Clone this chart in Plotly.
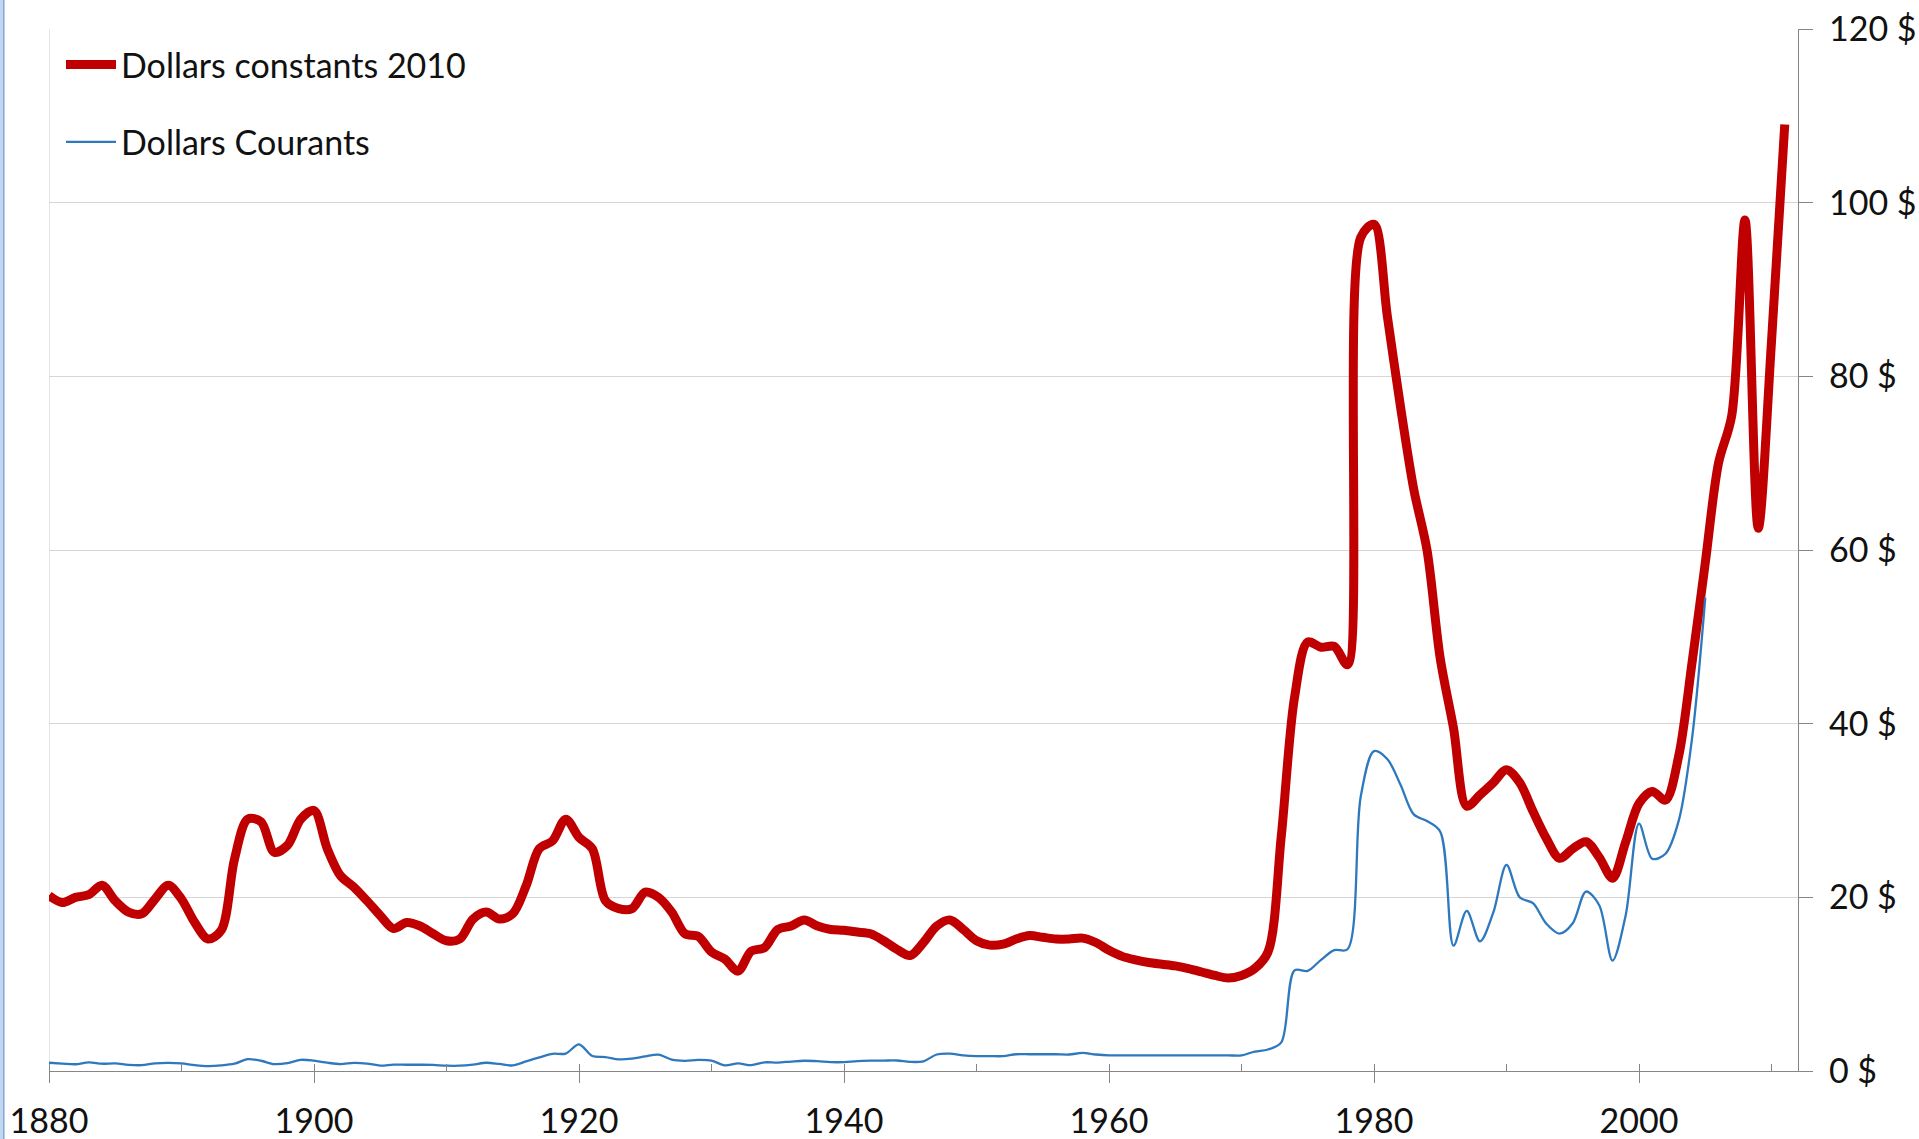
import plotly.graph_objects as go

# ---- data ----
years_const = list(range(1880, 2012))
dollars_const_2010 = [
    20.2, 19.4, 20.0, 20.3, 21.4, 19.6, 18.3, 18.1, 19.8, 21.4,   # 1880-1889
    19.8, 17.1, 15.2, 16.2, 24.4, 29.0, 28.7, 25.2, 26.0, 29.0,   # 1890-1899
    30.0, 25.6, 22.5, 21.2, 19.6, 17.9, 16.4, 17.1, 16.7, 15.8,   # 1900-1909
    15.0, 15.2, 17.5, 18.3, 17.5, 18.1, 21.3, 25.6, 26.5, 29.0,   # 1910-1919
    26.9, 25.6, 19.6, 18.7, 18.7, 20.6, 20.0, 18.3, 15.8, 15.5,   # 1920-1929
    13.7, 12.9, 11.5, 13.8, 14.2, 16.3, 16.7, 17.4, 16.7, 16.3,   # 1930-1939
    16.2, 16.0, 15.8, 15.0, 14.0, 13.3, 14.8, 16.7, 17.4, 16.3,   # 1940-1949
    15.0, 14.5, 14.6, 15.2, 15.6, 15.4, 15.2, 15.2, 15.3, 14.8,   # 1950-1959
    13.9, 13.2, 12.8, 12.5, 12.3, 12.1, 11.8, 11.4, 11.0, 10.7,   # 1960-1969
    11.0, 11.8, 13.7, 27.0, 43.0, 49.4, 48.8, 48.9, 46.8, 96.0,   # 1970-1979
    97.5, 87.0, 76.5, 67.0, 60.0, 47.5, 39.5, 30.5, 31.8, 33.2,   # 1980-1989
    34.7, 33.2, 29.9, 26.8, 24.5, 25.6, 26.4, 24.6, 22.2, 26.4,   # 1990-1999
    30.8, 32.2, 31.2, 36.3, 47.0, 58.5, 70.0, 75.5, 98.0, 62.5,   # 2000-2009
    84.0, 109.0,                                                  # 2010-2011
]

years_cur = list(range(1880, 2006))
dollars_courants = [
    0.95, 0.86, 0.78, 1.00, 0.84, 0.88, 0.71, 0.67, 0.88, 0.94,   # 1880-1889
    0.87, 0.67, 0.56, 0.64, 0.84, 1.36, 1.18, 0.79, 0.91, 1.29,   # 1890-1899
    1.19, 0.96, 0.80, 0.94, 0.86, 0.62, 0.73, 0.72, 0.72, 0.70,   # 1900-1909
    0.61, 0.61, 0.74, 0.95, 0.81, 0.64, 1.10, 1.56, 1.98, 2.01,   # 1910-1919
    3.07, 1.73, 1.61, 1.34, 1.43, 1.68, 1.88, 1.30, 1.17, 1.27,   # 1920-1929
    1.19, 0.65, 0.87, 0.67, 1.00, 0.97, 1.09, 1.18, 1.13, 1.02,   # 1930-1939
    1.02, 1.14, 1.19, 1.20, 1.21, 1.05, 1.12, 1.90, 1.99, 1.80,   # 1940-1949
    1.71, 1.71, 1.71, 1.93, 1.93, 1.93, 1.93, 1.90, 2.08, 1.90,   # 1950-1959
    1.80, 1.80, 1.80, 1.80, 1.80, 1.80, 1.80, 1.80, 1.80, 1.80,   # 1960-1969
    1.80, 2.24, 2.48, 3.29, 11.58, 11.53, 12.80, 13.92, 14.02, 31.61,  # 1970-1979
    36.83, 35.93, 32.97, 29.55, 28.78, 27.56, 14.43, 18.44, 14.92, 18.23,  # 1980-1989
    23.73, 20.00, 19.32, 16.97, 15.82, 17.02, 20.67, 19.09, 12.72, 17.97,  # 1990-1999
    28.50, 24.44, 25.02, 28.83, 38.27, 54.52,                     # 2000-2005
]

y_tick_vals = [0, 20, 40, 60, 80, 100, 120]
y_tick_text = ["0 $", "20 $", "40 $", "60 $", "80 $", "100 $", "120 $"]
x_tick_vals = [1880, 1900, 1920, 1940, 1960, 1980, 2000]
x_tick_text = ["1880", "1900", "1920", "1940", "1960", "1980", "2000"]

RED = "#C00000"
BLUE = "#2E78BD"
GRID = "#D6D6D6"
AXIS = "#868686"
FONT = "Lato"

fig = go.Figure()
fig.add_trace(go.Scatter(
    x=years_const, y=dollars_const_2010, mode="lines",
    name="Dollars constants 2010", legendgroup="a",
    line=dict(color=RED, width=9, shape="spline", smoothing=0.9),
))
fig.add_trace(go.Scatter(
    x=years_cur, y=dollars_courants, mode="lines",
    name="Dollars Courants", legendgroup="b",
    line=dict(color=BLUE, width=2.3, shape="spline", smoothing=0.9),
))

W, H = 1919, 1139
ml, mr, mt, mb = 49, 121, 29, 68
pw, ph = W - ml - mr, H - mt - mb

def px_x(p):
    return (p - ml) / pw

def px_y(p):
    return (H - mb - p) / ph

fig.update_layout(
    width=W, height=H,
    margin=dict(l=ml, r=mr, t=mt, b=mb, pad=0, autoexpand=False),
    paper_bgcolor="white", plot_bgcolor="white",
    font=dict(family=FONT, size=34, color="#111111"),
    showlegend=True,
    legend=dict(
        x=px_x(61), y=px_y(36), xanchor="left", yanchor="top",
        font=dict(family=FONT, size=34, color="#111111"),
        bgcolor="rgba(0,0,0,0)", borderwidth=0,
        traceorder="grouped", tracegroupgap=30, itemwidth=50,
    ),
    xaxis=dict(
        range=[1880, 2012], tickmode="array",
        tickvals=x_tick_vals, ticktext=x_tick_text,
        showgrid=False, zeroline=False, automargin=False,
        showline=True, linecolor=AXIS, linewidth=1.3,
        ticks="outside", ticklen=11, tickcolor=AXIS, tickwidth=1.3,
        ticklabelstandoff=9,
        tickfont=dict(family=FONT, size=34, color="#111111"),
        minor=dict(ticks="inside", dtick=10, tick0=1880, ticklen=7,
                   tickcolor=AXIS, tickwidth=1.3, showgrid=False),
    ),
    yaxis=dict(
        range=[0, 120], side="right", tickmode="array",
        tickvals=y_tick_vals, ticktext=y_tick_text,
        showgrid=True, gridcolor=GRID, gridwidth=1.2, zeroline=False,
        automargin=False,
        showline=True, linecolor=AXIS, linewidth=1.3,
        ticks="outside", ticklen=14, tickcolor=AXIS, tickwidth=1.3,
        ticklabelstandoff=9,
        tickfont=dict(family=FONT, size=34, color="#111111"),
    ),
    shapes=[
        # light left border of the plot area
        dict(type="line", xref="x", yref="paper", x0=1880, x1=1880, y0=0, y1=1,
             line=dict(color=GRID, width=1.2), layer="below"),
        # window edge on the far left
        dict(type="rect", xref="paper", yref="paper",
             x0=px_x(0), x1=px_x(3), y0=px_y(H), y1=px_y(0),
             fillcolor="#C3D8EF", line=dict(width=0)),
        dict(type="rect", xref="paper", yref="paper",
             x0=px_x(3), x1=px_x(4.5), y0=px_y(H), y1=px_y(0),
             fillcolor="#7FA8D8", line=dict(width=0)),
    ],
)

fig.write_html(
    "out.html",
    config={"displayModeBar": False},
    post_script="document.body.style.margin='0';document.body.style.overflow='hidden';",
)
